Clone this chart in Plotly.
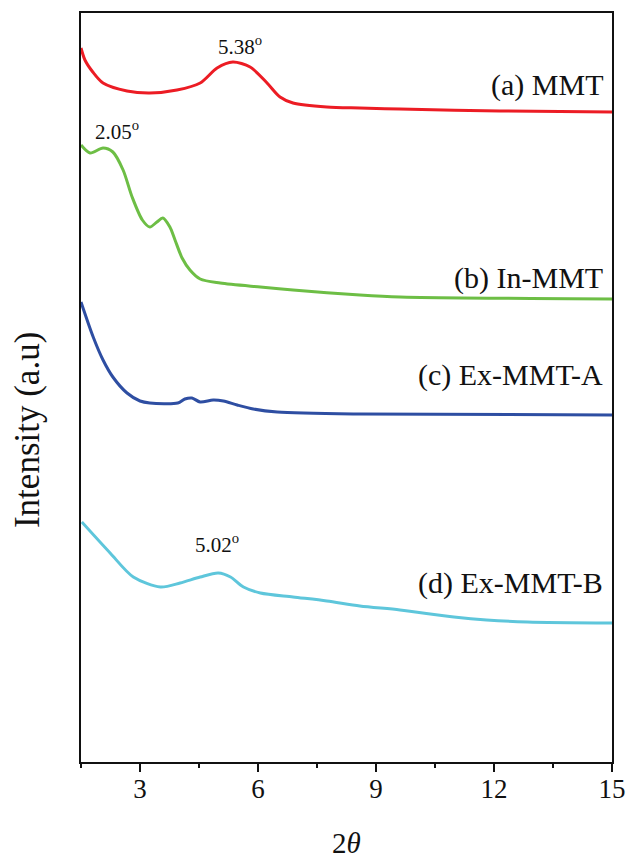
import plotly.graph_objects as go

# (a) MMT
mmt_x = [1.5, 1.60, 1.80, 2.06, 2.67, 3.25, 3.94, 4.53, 4.96, 5.36, 5.80, 6.23, 6.56, 6.89, 7.75, 8.59, 9.61, 12.15, 15.0]
mmt_y = [714, 702, 690, 679, 671, 669, 672, 679, 694, 700, 695, 679, 665, 659, 655, 654, 653, 651, 650]

# (b) In-MMT
inmmt_x = [1.5, 1.73, 2.06, 2.31, 2.57, 2.80, 3.06, 3.25, 3.43, 3.58, 3.76, 3.89, 4.07, 4.27, 4.53, 5.04, 6.06, 6.89, 8.59, 9.61, 15.0]
inmmt_y = [617, 609, 614, 610, 592, 565, 542, 535, 540, 544, 535, 522, 504, 492, 483, 479, 475, 472, 467, 465, 463]

# (c) Ex-MMT-A
exa_x = [1.5, 1.81, 2.06, 2.31, 2.67, 3.00, 3.25, 3.96, 4.14, 4.32, 4.53, 4.86, 5.12, 5.47, 5.88, 6.49, 8.59, 15.0]
exa_y = [460, 425, 402, 385, 369, 361, 359, 359, 363, 364, 360, 362, 361, 357, 353, 350, 348, 347]

# (d) Ex-MMT-B
exb_x = [1.52, 2.24, 2.83, 3.52, 4.02, 4.53, 4.99, 5.30, 5.63, 6.06, 6.89, 7.75, 8.59, 9.61, 10.98, 11.81, 12.85, 15.0]
exb_y = [240, 209, 185, 175, 179, 185, 189, 185, 175, 169, 165, 161, 156, 152, 145, 142, 140, 139]

series_names = ["(a) MMT", "(b) In-MMT", "(c) Ex-MMT-A", "(d) Ex-MMT-B"]
series_colors = ["#EC1C24", "#6DBE45", "#2E4EA2", "#5EC6DB"]
label_y = [677, 484, 387, 179]

peak_text = ["5.38<sup>o</sup>", "2.05<sup>o</sup>", "5.02<sup>o</sup>"]
peak_x = [5.54, 2.42, 4.96]
peak_y = [717, 632, 219]

xs = [mmt_x, inmmt_x, exa_x, exb_x]
ys = [mmt_y, inmmt_y, exa_y, exb_y]

FONT = "Liberation Serif, Times New Roman, serif"

fig = go.Figure()
for x, y, name, c in zip(xs, ys, series_names, series_colors):
    fig.add_trace(go.Scatter(x=x, y=y, mode="lines", name=name,
                             line=dict(color=c, width=3, shape="spline", smoothing=0.8),
                             showlegend=False))

annotations = []
for name, ly in zip(series_names, label_y):
    annotations.append(dict(x=14.82, y=ly, xref="x", yref="y", text=name, showarrow=False,
                            xanchor="right", yanchor="middle",
                            font=dict(family=FONT, size=30, color="#111")))
for t, px, py in zip(peak_text, peak_x, peak_y):
    annotations.append(dict(x=px, y=py, xref="x", yref="y", text=t, showarrow=False,
                            xanchor="center", yanchor="middle",
                            font=dict(family=FONT, size=21, color="#111")))
annotations.append(dict(x=0.5, y=-0.108, xref="paper", yref="paper", text="2<i>θ</i>",
                        showarrow=False, xanchor="center", yanchor="middle",
                        font=dict(family=FONT, size=29, color="#111")))
annotations.append(dict(x=-0.102, y=0.443, xref="paper", yref="paper", text="Intensity (a.u)",
                        showarrow=False, xanchor="center", yanchor="middle", textangle=-90,
                        font=dict(family=FONT, size=35, color="#111")))

fig.update_layout(
    width=627, height=860, autosize=False,
    margin=dict(l=81, r=15, t=13, b=98),
    paper_bgcolor="white", plot_bgcolor="white",
    annotations=annotations,
    font=dict(family=FONT, color="#111"),
)
fig.update_xaxes(range=[1.5, 15], tick0=0, dtick=3, ticks="outside", ticklen=8, tickwidth=2,
                 tickcolor="#111", showline=True, linecolor="#111", linewidth=2, mirror=True,
                 showgrid=False, zeroline=False, ticklabelstandoff=-6, automargin=False,
                 tickfont=dict(family=FONT, size=27, color="#111"),
                 minor=dict(dtick=1.5, tick0=0, ticks="outside", ticklen=4, tickwidth=2, tickcolor="#111",
                            showgrid=False))
fig.update_yaxes(range=[0, 749], showticklabels=False, ticks="", showline=True, linecolor="#111",
                 linewidth=2, mirror=True, showgrid=False, zeroline=False, automargin=False)

fig.write_html("out.html",
               config={"responsive": False, "displayModeBar": False},
               post_script="document.body.style.margin='0';document.body.style.overflow='hidden';")
